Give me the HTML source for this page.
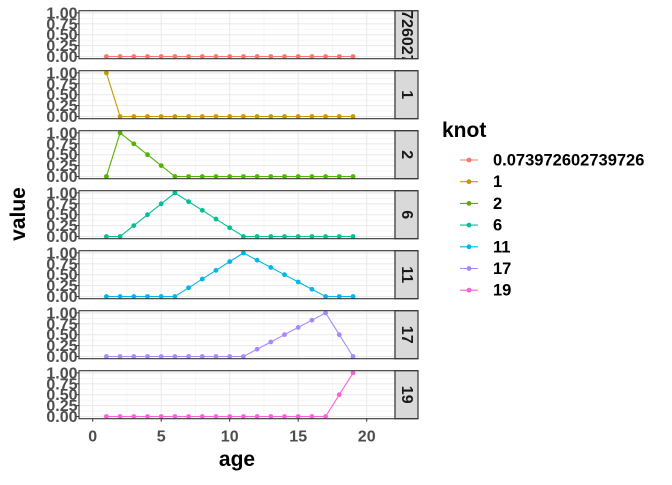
<!DOCTYPE html>
<html><head><meta charset="utf-8"><style>
body{margin:0;background:#fff;font-family:"Liberation Sans",sans-serif}
svg text{font-family:"Liberation Sans",sans-serif;font-weight:bold}
</style></head><body>
<svg id="c" width="672" height="480" xmlns="http://www.w3.org/2000/svg"></svg>
<script>
const knots = ["0.073972602739726","1","2","6","11","17","19"];
const ages = [1,2,3,4,5,6,7,8,9,10,11,12,13,14,15,16,17,18,19];
const series0 = [0,0,0,0,0,0,0,0,0,0,0,0,0,0,0,0,0,0,0];
const series1 = [1,0,0,0,0,0,0,0,0,0,0,0,0,0,0,0,0,0,0];
const series2 = [0,1,0.75,0.5,0.25,0,0,0,0,0,0,0,0,0,0,0,0,0,0];
const series6 = [0,0,0.25,0.5,0.75,1,0.8,0.6,0.4,0.2,0,0,0,0,0,0,0,0,0];
const series11 = [0,0,0,0,0,0,0.2,0.4,0.6,0.8,1,0.833,0.667,0.5,0.333,0.167,0,0,0];
const series17 = [0,0,0,0,0,0,0,0,0,0,0,0.167,0.333,0.5,0.667,0.833,1,0.5,0];
const series19 = [0,0,0,0,0,0,0,0,0,0,0,0,0,0,0,0,0,0.5,1];
const allSeries = [series0,series1,series2,series6,series11,series17,series19];
const xTicks = [0,5,10,15,20];
const yTicks = [0,0.25,0.5,0.75,1];
const yTickLabels = ["0.00","0.25","0.50","0.75","1.00"];
const colors = ["#F8766D","#C49A00","#53B400","#00C094","#00B6EB","#A58AFF","#FB61D7"];

const svg = document.getElementById('c');
const NS = "http://www.w3.org/2000/svg";
function mk(tag, attrs, parent){const e=document.createElementNS(NS,tag);for(const k in attrs)e.setAttribute(k,attrs[k]);(parent||svg).appendChild(e);return e;}
const PL=79, PR=395, SR=418, PH=48, TOP0=10.7, PITCH=60;
const xS = v => 92.7 + v*(366.7-92.7)/20;
const yS = (v,top) => top + PH - 2.2 - v*(PH-4.4);

allSeries.forEach((data,i)=>{
  const top = TOP0 + i*PITCH;
  const g = mk('g',{});
  
  
  mk('rect',{x:PL,y:top,width:PR-PL,height:PH,fill:'#fff'},g);
  [2.5,7.5,12.5,17.5,22.5].forEach(v=>{const x=xS(v); if(x<PR) mk('line',{x1:x,x2:x,y1:top,y2:top+PH,stroke:'#f0f0f0','stroke-width':0.6},g);});
  [0.125,0.375,0.625,0.875].forEach(v=>mk('line',{x1:PL,x2:PR,y1:yS(v,top),y2:yS(v,top),stroke:'#f0f0f0','stroke-width':0.6},g));
  xTicks.forEach(v=>mk('line',{x1:xS(v),x2:xS(v),y1:top,y2:top+PH,stroke:'#ebebeb','stroke-width':1.1},g));
  yTicks.forEach((v,j)=>{
    const y=yS(v,top);
    mk('line',{x1:PL,x2:PR,y1:y,y2:y,stroke:'#ebebeb','stroke-width':1.1},g);
    mk('line',{x1:PL-3,x2:PL,y1:y,y2:y,stroke:'#333','stroke-width':1},g);
    const t=mk('text',{x:PL-1.5,y:y+5.5,'text-anchor':'end','font-size':16,fill:'#4d4d4d'},g);
    t.textContent=yTickLabels[j];
    
    
  });
  const pts = ages.map((a,k)=>xS(a)+','+yS(data[k],top)).join(' ');
  const line = mk('polyline',{points:pts,fill:'none',stroke:colors[i],'stroke-width':1.1},g);
  
  
  ages.forEach((a,k)=>{
    const c=mk('circle',{cx:xS(a),cy:yS(data[k],top),r:2.4,fill:colors[i]},g);
    
    
  });
  mk('rect',{x:PL,y:top,width:PR-PL,height:PH,fill:'none',stroke:'#333','stroke-width':1.1},g);
  const cp = mk('clipPath',{id:'cp'+i},g);
  mk('rect',{x:PR,y:top,width:SR-PR,height:PH},cp);
  const s=mk('rect',{x:PR,y:top,width:SR-PR,height:PH,fill:'#d9d9d9',stroke:'#333','stroke-width':1.1},g);
  
  
  const cx=(PR+SR)/2, cy=top+PH/2;
  const cg=mk('g',{'clip-path':`url(#cp${i})`},g);
  const st=mk('text',{x:cx,y:cy,'text-anchor':'middle','dominant-baseline':'central','font-size':16,fill:'#1a1a1a',transform:`rotate(90 ${cx} ${cy})`},cg);
  st.textContent=knots[i];
  
  
  mk('rect',{x:PR,y:top,width:SR-PR,height:PH,fill:'none',stroke:'#333','stroke-width':1.1},g);
});
const bot = TOP0+6*PITCH+PH;
xTicks.forEach(v=>{
  mk('line',{x1:xS(v),x2:xS(v),y1:bot,y2:bot+3,stroke:'#333','stroke-width':1});
  const t=mk('text',{x:xS(v),y:bot+23,'text-anchor':'middle','font-size':16,fill:'#4d4d4d'});
  t.textContent=v;
  
  
});
let t=mk('text',{x:237,y:466,'text-anchor':'middle','font-size':21,fill:'#000'});
t.textContent='age';


t=mk('text',{x:25,y:214,'text-anchor':'middle','font-size':21,fill:'#000',transform:'rotate(-90 25 214)'});
t.textContent='value';


t=mk('text',{x:442,y:137,'font-size':21,fill:'#000'});
t.textContent='knot';


knots.forEach((k,i)=>{
  const y=160+i*21.7;
  const g=mk('g',{});
  
  
  mk('line',{x1:460,x2:478,y1:y,y2:y,stroke:colors[i],'stroke-width':1.1},g);
  mk('circle',{cx:469,cy:y,r:2.4,fill:colors[i]},g);
  const l=mk('text',{x:493,y:y+5.5,'font-size':16.5,fill:'#000'},g);
  l.textContent=k;
});
</script>
</body></html>
